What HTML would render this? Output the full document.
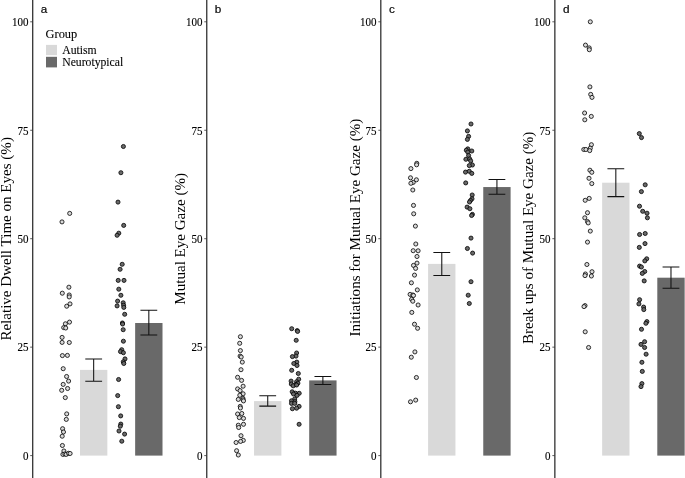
<!DOCTYPE html>
<html lang="en"><head><meta charset="utf-8"><title>Figure</title>
<style>
html,body{margin:0;padding:0;background:#fff;}
body{width:685px;height:478px;overflow:hidden;}
svg{display:block;}
.tk{font-family:"Liberation Serif",serif;font-size:11.6px;fill:#000;stroke:#000;stroke-width:0.12px;text-anchor:end;}
.tt{font-family:"Liberation Serif",serif;font-size:15.05px;fill:#000;text-anchor:middle;}
.lt{font-family:"Liberation Sans",sans-serif;font-size:11.7px;fill:#000;stroke:#000;stroke-width:0.18px;}
.lg{font-family:"Liberation Serif",serif;fill:#000;}
.lg text{stroke:#000;stroke-width:0.1px;}
.po circle{fill:#d9d9d9;stroke:#000;stroke-width:0.8;}
.pf circle{fill:#696969;stroke:#000;stroke-width:0.8;}
.eb{stroke:#111;stroke-width:1.05;fill:none;}
.ax{stroke:#333333;stroke-width:1.3;}
</style></head>
<body>
<svg width="685" height="478" viewBox="0 0 685 478">
<rect width="685" height="478" fill="#fff"/>
<g>
<rect x="80.00" y="369.90" width="27.35" height="85.70" fill="#d9d9d9"/>
<rect x="135.15" y="323.00" width="27.35" height="132.60" fill="#696969"/>
<path class="eb" d="M85.27 358.90H102.08M93.67 358.90V381.30M85.27 381.30H102.08"/>
<path class="eb" d="M140.43 310.20H157.23M148.83 310.20V334.90M140.43 334.90H157.23"/>
<g class="po"><circle cx="69.7" cy="213.4" r="2.05"/><circle cx="62.0" cy="221.9" r="2.05"/><circle cx="68.9" cy="287.2" r="2.05"/><circle cx="62.3" cy="293.2" r="2.05"/><circle cx="69.2" cy="295.0" r="2.05"/><circle cx="69.2" cy="296.9" r="2.05"/><circle cx="70.0" cy="303.9" r="2.05"/><circle cx="66.7" cy="306.2" r="2.05"/><circle cx="69.5" cy="322.1" r="2.05"/><circle cx="65.4" cy="323.8" r="2.05"/><circle cx="63.7" cy="327.6" r="2.05"/><circle cx="65.7" cy="328.0" r="2.05"/><circle cx="62.1" cy="337.4" r="2.05"/><circle cx="62.1" cy="342.4" r="2.05"/><circle cx="69.3" cy="342.5" r="2.05"/><circle cx="62.4" cy="355.6" r="2.05"/><circle cx="67.4" cy="355.4" r="2.05"/><circle cx="63.2" cy="368.7" r="2.05"/><circle cx="66.6" cy="376.5" r="2.05"/><circle cx="68.6" cy="381.1" r="2.05"/><circle cx="63.2" cy="384.4" r="2.05"/><circle cx="67.6" cy="388.5" r="2.05"/><circle cx="61.7" cy="390.3" r="2.05"/><circle cx="65.3" cy="397.6" r="2.05"/><circle cx="66.7" cy="413.9" r="2.05"/><circle cx="66.3" cy="419.4" r="2.05"/><circle cx="62.6" cy="428.7" r="2.05"/><circle cx="63.5" cy="432.0" r="2.05"/><circle cx="62.2" cy="436.2" r="2.05"/><circle cx="62.4" cy="445.5" r="2.05"/><circle cx="63.9" cy="451.0" r="2.05"/><circle cx="62.9" cy="454.4" r="2.05"/><circle cx="64.9" cy="454.0" r="2.05"/><circle cx="66.2" cy="454.4" r="2.05"/><circle cx="68.6" cy="453.3" r="2.05"/><circle cx="70.1" cy="453.5" r="2.05"/></g>
<g class="pf"><circle cx="123.4" cy="146.5" r="2.05"/><circle cx="120.9" cy="172.7" r="2.05"/><circle cx="118.0" cy="202.1" r="2.05"/><circle cx="123.7" cy="225.4" r="2.05"/><circle cx="118.8" cy="233.2" r="2.05"/><circle cx="117.1" cy="235.3" r="2.05"/><circle cx="122.2" cy="264.3" r="2.05"/><circle cx="120.1" cy="269.3" r="2.05"/><circle cx="118.2" cy="280.4" r="2.05"/><circle cx="124.0" cy="280.4" r="2.05"/><circle cx="118.8" cy="289.2" r="2.05"/><circle cx="120.9" cy="295.3" r="2.05"/><circle cx="117.6" cy="301.1" r="2.05"/><circle cx="123.2" cy="302.8" r="2.05"/><circle cx="117.1" cy="305.9" r="2.05"/><circle cx="123.6" cy="305.3" r="2.05"/><circle cx="123.8" cy="307.4" r="2.05"/><circle cx="124.7" cy="314.3" r="2.05"/><circle cx="122.4" cy="323.0" r="2.05"/><circle cx="122.6" cy="324.0" r="2.05"/><circle cx="123.2" cy="329.7" r="2.05"/><circle cx="123.4" cy="341.2" r="2.05"/><circle cx="121.7" cy="349.7" r="2.05"/><circle cx="120.5" cy="351.6" r="2.05"/><circle cx="123.4" cy="352.7" r="2.05"/><circle cx="125.0" cy="358.9" r="2.05"/><circle cx="123.3" cy="361.8" r="2.05"/><circle cx="123.8" cy="363.5" r="2.05"/><circle cx="118.6" cy="379.5" r="2.05"/><circle cx="117.7" cy="395.6" r="2.05"/><circle cx="118.4" cy="406.7" r="2.05"/><circle cx="120.7" cy="415.9" r="2.05"/><circle cx="120.8" cy="424.1" r="2.05"/><circle cx="120.3" cy="426.2" r="2.05"/><circle cx="119.0" cy="431.0" r="2.05"/><circle cx="124.6" cy="434.1" r="2.05"/><circle cx="121.8" cy="441.2" r="2.05"/></g>
<line class="ax" x1="32.70" y1="0" x2="32.70" y2="478"/>
<line class="ax" style="stroke-width:0.8" x1="30.20" y1="455.60" x2="32.70" y2="455.60"/><text class="tk" transform="translate(28.45 459.85) scale(0.95 1)">0</text>
<line class="ax" style="stroke-width:0.8" x1="30.20" y1="347.15" x2="32.70" y2="347.15"/><text class="tk" transform="translate(28.45 351.40) scale(0.95 1)">25</text>
<line class="ax" style="stroke-width:0.8" x1="30.20" y1="238.70" x2="32.70" y2="238.70"/><text class="tk" transform="translate(28.45 242.95) scale(0.95 1)">50</text>
<line class="ax" style="stroke-width:0.8" x1="30.20" y1="130.25" x2="32.70" y2="130.25"/><text class="tk" transform="translate(28.45 134.50) scale(0.95 1)">75</text>
<line class="ax" style="stroke-width:0.8" x1="30.20" y1="21.80" x2="32.70" y2="21.80"/><text class="tk" transform="translate(28.45 26.05) scale(0.95 1)">100</text>
<text class="tt" transform="translate(11.00 238.85) rotate(-90)">Relative Dwell Time on Eyes (%)</text>
<text class="lt" transform="translate(40.80 13.1)">a</text>
</g>
<g>
<rect x="254.05" y="401.10" width="27.35" height="54.50" fill="#d9d9d9"/>
<rect x="309.20" y="380.40" width="27.35" height="75.20" fill="#696969"/>
<path class="eb" d="M259.33 395.80H276.12M267.73 395.80V406.10M259.33 406.10H276.12"/>
<path class="eb" d="M314.48 376.40H331.28M322.88 376.40V384.50M314.48 384.50H331.28"/>
<g class="po"><circle cx="240.4" cy="336.7" r="2.05"/><circle cx="239.7" cy="343.3" r="2.05"/><circle cx="240.4" cy="350.6" r="2.05"/><circle cx="240.1" cy="356.1" r="2.05"/><circle cx="241.2" cy="357.0" r="2.05"/><circle cx="242.3" cy="362.1" r="2.05"/><circle cx="241.0" cy="369.7" r="2.05"/><circle cx="237.6" cy="377.3" r="2.05"/><circle cx="241.6" cy="380.4" r="2.05"/><circle cx="243.1" cy="386.2" r="2.05"/><circle cx="237.6" cy="388.9" r="2.05"/><circle cx="240.1" cy="390.6" r="2.05"/><circle cx="243.1" cy="393.8" r="2.05"/><circle cx="239.8" cy="395.3" r="2.05"/><circle cx="242.9" cy="398.3" r="2.05"/><circle cx="238.3" cy="399.4" r="2.05"/><circle cx="243.1" cy="399.8" r="2.05"/><circle cx="243.5" cy="400.9" r="2.05"/><circle cx="240.2" cy="406.4" r="2.05"/><circle cx="240.4" cy="408.0" r="2.05"/><circle cx="241.8" cy="413.5" r="2.05"/><circle cx="237.6" cy="414.0" r="2.05"/><circle cx="239.3" cy="417.6" r="2.05"/><circle cx="243.5" cy="418.4" r="2.05"/><circle cx="243.5" cy="424.3" r="2.05"/><circle cx="238.3" cy="425.2" r="2.05"/><circle cx="238.7" cy="427.5" r="2.05"/><circle cx="241.0" cy="435.7" r="2.05"/><circle cx="243.3" cy="440.4" r="2.05"/><circle cx="240.6" cy="441.4" r="2.05"/><circle cx="236.1" cy="442.5" r="2.05"/><circle cx="236.6" cy="450.7" r="2.05"/><circle cx="238.3" cy="455.0" r="2.05"/></g>
<g class="pf"><circle cx="291.7" cy="328.7" r="2.05"/><circle cx="297.2" cy="330.6" r="2.05"/><circle cx="297.6" cy="331.4" r="2.05"/><circle cx="296.2" cy="340.3" r="2.05"/><circle cx="296.6" cy="353.0" r="2.05"/><circle cx="296.0" cy="356.1" r="2.05"/><circle cx="292.4" cy="356.6" r="2.05"/><circle cx="296.8" cy="362.1" r="2.05"/><circle cx="293.8" cy="363.5" r="2.05"/><circle cx="297.0" cy="365.5" r="2.05"/><circle cx="291.7" cy="370.3" r="2.05"/><circle cx="298.3" cy="373.5" r="2.05"/><circle cx="298.7" cy="379.2" r="2.05"/><circle cx="291.1" cy="381.1" r="2.05"/><circle cx="296.6" cy="381.7" r="2.05"/><circle cx="297.9" cy="383.2" r="2.05"/><circle cx="291.3" cy="384.0" r="2.05"/><circle cx="295.8" cy="384.5" r="2.05"/><circle cx="293.2" cy="385.8" r="2.05"/><circle cx="296.6" cy="385.0" r="2.05"/><circle cx="292.2" cy="391.8" r="2.05"/><circle cx="295.5" cy="393.2" r="2.05"/><circle cx="299.2" cy="393.3" r="2.05"/><circle cx="293.5" cy="394.0" r="2.05"/><circle cx="297.0" cy="395.4" r="2.05"/><circle cx="294.7" cy="399.0" r="2.05"/><circle cx="291.5" cy="400.8" r="2.05"/><circle cx="294.9" cy="401.7" r="2.05"/><circle cx="291.5" cy="403.4" r="2.05"/><circle cx="294.7" cy="403.4" r="2.05"/><circle cx="299.1" cy="406.4" r="2.05"/><circle cx="296.6" cy="408.2" r="2.05"/><circle cx="292.4" cy="408.7" r="2.05"/><circle cx="299.1" cy="424.3" r="2.05"/></g>
<line class="ax" x1="206.75" y1="0" x2="206.75" y2="478"/>
<line class="ax" style="stroke-width:0.8" x1="204.25" y1="455.60" x2="206.75" y2="455.60"/><text class="tk" transform="translate(202.50 459.85) scale(0.95 1)">0</text>
<line class="ax" style="stroke-width:0.8" x1="204.25" y1="347.15" x2="206.75" y2="347.15"/><text class="tk" transform="translate(202.50 351.40) scale(0.95 1)">25</text>
<line class="ax" style="stroke-width:0.8" x1="204.25" y1="238.70" x2="206.75" y2="238.70"/><text class="tk" transform="translate(202.50 242.95) scale(0.95 1)">50</text>
<line class="ax" style="stroke-width:0.8" x1="204.25" y1="130.25" x2="206.75" y2="130.25"/><text class="tk" transform="translate(202.50 134.50) scale(0.95 1)">75</text>
<line class="ax" style="stroke-width:0.8" x1="204.25" y1="21.80" x2="206.75" y2="21.80"/><text class="tk" transform="translate(202.50 26.05) scale(0.95 1)">100</text>
<text class="tt" transform="translate(184.85 238.85) rotate(-90)">Mutual Eye Gaze (%)</text>
<text class="lt" transform="translate(214.85 13.1)">b</text>
</g>
<g>
<rect x="428.10" y="263.90" width="27.35" height="191.70" fill="#d9d9d9"/>
<rect x="483.25" y="187.05" width="27.35" height="268.55" fill="#696969"/>
<path class="eb" d="M433.38 252.50H450.18M441.78 252.50V275.40M433.38 275.40H450.18"/>
<path class="eb" d="M488.53 179.50H505.32M496.93 179.50V194.20M488.53 194.20H505.32"/>
<g class="po"><circle cx="416.8" cy="163.3" r="2.05"/><circle cx="416.6" cy="164.8" r="2.05"/><circle cx="410.9" cy="168.6" r="2.05"/><circle cx="410.5" cy="177.8" r="2.05"/><circle cx="416.4" cy="179.8" r="2.05"/><circle cx="413.2" cy="182.4" r="2.05"/><circle cx="410.9" cy="183.3" r="2.05"/><circle cx="412.8" cy="190.0" r="2.05"/><circle cx="413.5" cy="205.4" r="2.05"/><circle cx="413.7" cy="213.8" r="2.05"/><circle cx="415.4" cy="226.1" r="2.05"/><circle cx="415.8" cy="244.0" r="2.05"/><circle cx="413.2" cy="250.7" r="2.05"/><circle cx="418.1" cy="250.8" r="2.05"/><circle cx="417.0" cy="256.5" r="2.05"/><circle cx="417.0" cy="263.1" r="2.05"/><circle cx="413.5" cy="265.4" r="2.05"/><circle cx="415.6" cy="268.4" r="2.05"/><circle cx="414.5" cy="275.1" r="2.05"/><circle cx="411.4" cy="282.8" r="2.05"/><circle cx="417.3" cy="289.9" r="2.05"/><circle cx="410.1" cy="294.4" r="2.05"/><circle cx="412.8" cy="295.0" r="2.05"/><circle cx="413.5" cy="295.5" r="2.05"/><circle cx="411.6" cy="299.3" r="2.05"/><circle cx="412.8" cy="301.2" r="2.05"/><circle cx="418.1" cy="305.0" r="2.05"/><circle cx="411.8" cy="312.4" r="2.05"/><circle cx="414.5" cy="324.2" r="2.05"/><circle cx="417.6" cy="328.3" r="2.05"/><circle cx="414.9" cy="351.9" r="2.05"/><circle cx="411.3" cy="357.2" r="2.05"/><circle cx="416.4" cy="377.5" r="2.05"/><circle cx="415.7" cy="400.1" r="2.05"/><circle cx="410.5" cy="401.8" r="2.05"/></g>
<g class="pf"><circle cx="471.0" cy="124.0" r="2.05"/><circle cx="467.4" cy="130.9" r="2.05"/><circle cx="468.6" cy="136.4" r="2.05"/><circle cx="467.4" cy="139.4" r="2.05"/><circle cx="467.8" cy="148.9" r="2.05"/><circle cx="466.3" cy="150.2" r="2.05"/><circle cx="471.8" cy="151.0" r="2.05"/><circle cx="467.8" cy="152.1" r="2.05"/><circle cx="468.6" cy="155.5" r="2.05"/><circle cx="465.9" cy="159.3" r="2.05"/><circle cx="469.7" cy="159.0" r="2.05"/><circle cx="470.7" cy="160.9" r="2.05"/><circle cx="472.4" cy="165.0" r="2.05"/><circle cx="469.3" cy="165.6" r="2.05"/><circle cx="465.5" cy="172.1" r="2.05"/><circle cx="469.3" cy="171.3" r="2.05"/><circle cx="471.8" cy="173.4" r="2.05"/><circle cx="465.7" cy="182.9" r="2.05"/><circle cx="472.2" cy="195.0" r="2.05"/><circle cx="472.0" cy="198.8" r="2.05"/><circle cx="470.5" cy="200.5" r="2.05"/><circle cx="469.5" cy="202.0" r="2.05"/><circle cx="467.1" cy="207.1" r="2.05"/><circle cx="469.9" cy="208.7" r="2.05"/><circle cx="472.4" cy="214.4" r="2.05"/><circle cx="471.6" cy="215.5" r="2.05"/><circle cx="471.0" cy="238.1" r="2.05"/><circle cx="467.4" cy="248.5" r="2.05"/><circle cx="472.6" cy="253.1" r="2.05"/><circle cx="471.0" cy="281.7" r="2.05"/><circle cx="468.2" cy="295.2" r="2.05"/><circle cx="469.3" cy="303.5" r="2.05"/></g>
<line class="ax" x1="380.80" y1="0" x2="380.80" y2="478"/>
<line class="ax" style="stroke-width:0.8" x1="378.30" y1="455.60" x2="380.80" y2="455.60"/><text class="tk" transform="translate(376.55 459.85) scale(0.95 1)">0</text>
<line class="ax" style="stroke-width:0.8" x1="378.30" y1="347.15" x2="380.80" y2="347.15"/><text class="tk" transform="translate(376.55 351.40) scale(0.95 1)">25</text>
<line class="ax" style="stroke-width:0.8" x1="378.30" y1="238.70" x2="380.80" y2="238.70"/><text class="tk" transform="translate(376.55 242.95) scale(0.95 1)">50</text>
<line class="ax" style="stroke-width:0.8" x1="378.30" y1="130.25" x2="380.80" y2="130.25"/><text class="tk" transform="translate(376.55 134.50) scale(0.95 1)">75</text>
<line class="ax" style="stroke-width:0.8" x1="378.30" y1="21.80" x2="380.80" y2="21.80"/><text class="tk" transform="translate(376.55 26.05) scale(0.95 1)">100</text>
<text class="tt" transform="translate(359.90 227.65) rotate(-90)">Initiations for Mutual Eye Gaze (%)</text>
<text class="lt" transform="translate(388.90 13.1)">c</text>
</g>
<g>
<rect x="602.15" y="182.70" width="27.35" height="272.90" fill="#d9d9d9"/>
<rect x="657.30" y="277.70" width="27.35" height="177.90" fill="#696969"/>
<path class="eb" d="M607.43 168.70H624.23M615.83 168.70V196.60M607.43 196.60H624.23"/>
<path class="eb" d="M662.58 266.90H679.38M670.98 266.90V288.30M662.58 288.30H679.38"/>
<g class="po"><circle cx="590.3" cy="21.8" r="2.05"/><circle cx="585.5" cy="45.1" r="2.05"/><circle cx="589.2" cy="47.9" r="2.05"/><circle cx="589.3" cy="49.7" r="2.05"/><circle cx="589.9" cy="86.9" r="2.05"/><circle cx="590.7" cy="94.4" r="2.05"/><circle cx="592.0" cy="97.4" r="2.05"/><circle cx="584.6" cy="113.0" r="2.05"/><circle cx="591.3" cy="116.4" r="2.05"/><circle cx="584.8" cy="119.8" r="2.05"/><circle cx="591.4" cy="144.7" r="2.05"/><circle cx="590.3" cy="148.2" r="2.05"/><circle cx="583.8" cy="149.5" r="2.05"/><circle cx="585.9" cy="149.5" r="2.05"/><circle cx="589.7" cy="150.6" r="2.05"/><circle cx="589.9" cy="170.2" r="2.05"/><circle cx="591.8" cy="172.3" r="2.05"/><circle cx="589.0" cy="178.3" r="2.05"/><circle cx="591.8" cy="183.6" r="2.05"/><circle cx="589.2" cy="198.4" r="2.05"/><circle cx="585.2" cy="200.3" r="2.05"/><circle cx="587.5" cy="212.7" r="2.05"/><circle cx="584.8" cy="217.8" r="2.05"/><circle cx="587.5" cy="221.6" r="2.05"/><circle cx="588.2" cy="222.9" r="2.05"/><circle cx="590.3" cy="231.1" r="2.05"/><circle cx="587.5" cy="242.1" r="2.05"/><circle cx="586.9" cy="264.5" r="2.05"/><circle cx="592.0" cy="271.7" r="2.05"/><circle cx="585.4" cy="274.0" r="2.05"/><circle cx="585.0" cy="275.6" r="2.05"/><circle cx="591.4" cy="276.0" r="2.05"/><circle cx="585.0" cy="305.6" r="2.05"/><circle cx="584.0" cy="306.6" r="2.05"/><circle cx="585.2" cy="331.8" r="2.05"/><circle cx="588.6" cy="347.5" r="2.05"/></g>
<g class="pf"><circle cx="639.3" cy="133.6" r="2.05"/><circle cx="641.5" cy="137.6" r="2.05"/><circle cx="645.2" cy="184.8" r="2.05"/><circle cx="641.4" cy="191.6" r="2.05"/><circle cx="639.5" cy="206.2" r="2.05"/><circle cx="642.7" cy="211.3" r="2.05"/><circle cx="647.0" cy="213.2" r="2.05"/><circle cx="647.4" cy="217.8" r="2.05"/><circle cx="639.6" cy="234.5" r="2.05"/><circle cx="645.2" cy="233.5" r="2.05"/><circle cx="645.0" cy="243.6" r="2.05"/><circle cx="639.3" cy="247.4" r="2.05"/><circle cx="646.7" cy="258.8" r="2.05"/><circle cx="644.8" cy="260.9" r="2.05"/><circle cx="639.6" cy="266.1" r="2.05"/><circle cx="641.4" cy="267.0" r="2.05"/><circle cx="644.7" cy="271.5" r="2.05"/><circle cx="642.3" cy="273.4" r="2.05"/><circle cx="644.2" cy="280.9" r="2.05"/><circle cx="639.6" cy="299.7" r="2.05"/><circle cx="638.9" cy="303.9" r="2.05"/><circle cx="643.6" cy="307.1" r="2.05"/><circle cx="643.8" cy="309.6" r="2.05"/><circle cx="646.9" cy="321.6" r="2.05"/><circle cx="645.9" cy="323.3" r="2.05"/><circle cx="641.5" cy="329.3" r="2.05"/><circle cx="644.6" cy="341.7" r="2.05"/><circle cx="641.0" cy="344.4" r="2.05"/><circle cx="644.6" cy="347.5" r="2.05"/><circle cx="646.1" cy="354.2" r="2.05"/><circle cx="641.9" cy="362.3" r="2.05"/><circle cx="642.3" cy="371.4" r="2.05"/><circle cx="641.9" cy="383.6" r="2.05"/><circle cx="641.0" cy="386.6" r="2.05"/></g>
<line class="ax" x1="554.85" y1="0" x2="554.85" y2="478"/>
<line class="ax" style="stroke-width:0.8" x1="552.35" y1="455.60" x2="554.85" y2="455.60"/><text class="tk" transform="translate(550.60 459.85) scale(0.95 1)">0</text>
<line class="ax" style="stroke-width:0.8" x1="552.35" y1="347.15" x2="554.85" y2="347.15"/><text class="tk" transform="translate(550.60 351.40) scale(0.95 1)">25</text>
<line class="ax" style="stroke-width:0.8" x1="552.35" y1="238.70" x2="554.85" y2="238.70"/><text class="tk" transform="translate(550.60 242.95) scale(0.95 1)">50</text>
<line class="ax" style="stroke-width:0.8" x1="552.35" y1="130.25" x2="554.85" y2="130.25"/><text class="tk" transform="translate(550.60 134.50) scale(0.95 1)">75</text>
<line class="ax" style="stroke-width:0.8" x1="552.35" y1="21.80" x2="554.85" y2="21.80"/><text class="tk" transform="translate(550.60 26.05) scale(0.95 1)">100</text>
<text class="tt" transform="translate(532.95 237.85) rotate(-90)">Break ups of Mutual Eye Gaze (%)</text>
<text class="lt" transform="translate(562.95 13.1)">d</text>
</g>
<g class="lg">
<text x="45.6" y="37.5" font-size="12.4">Group</text>
<rect x="46" y="44.9" width="11" height="10.3" fill="#d9d9d9"/>
<rect x="46" y="56.8" width="11" height="10.6" fill="#696969"/>
<text x="62.2" y="53.8" font-size="11.7">Autism</text>
<text x="62.2" y="65.8" font-size="11.7">Neurotypical</text>
</g>
</svg>
</body></html>
